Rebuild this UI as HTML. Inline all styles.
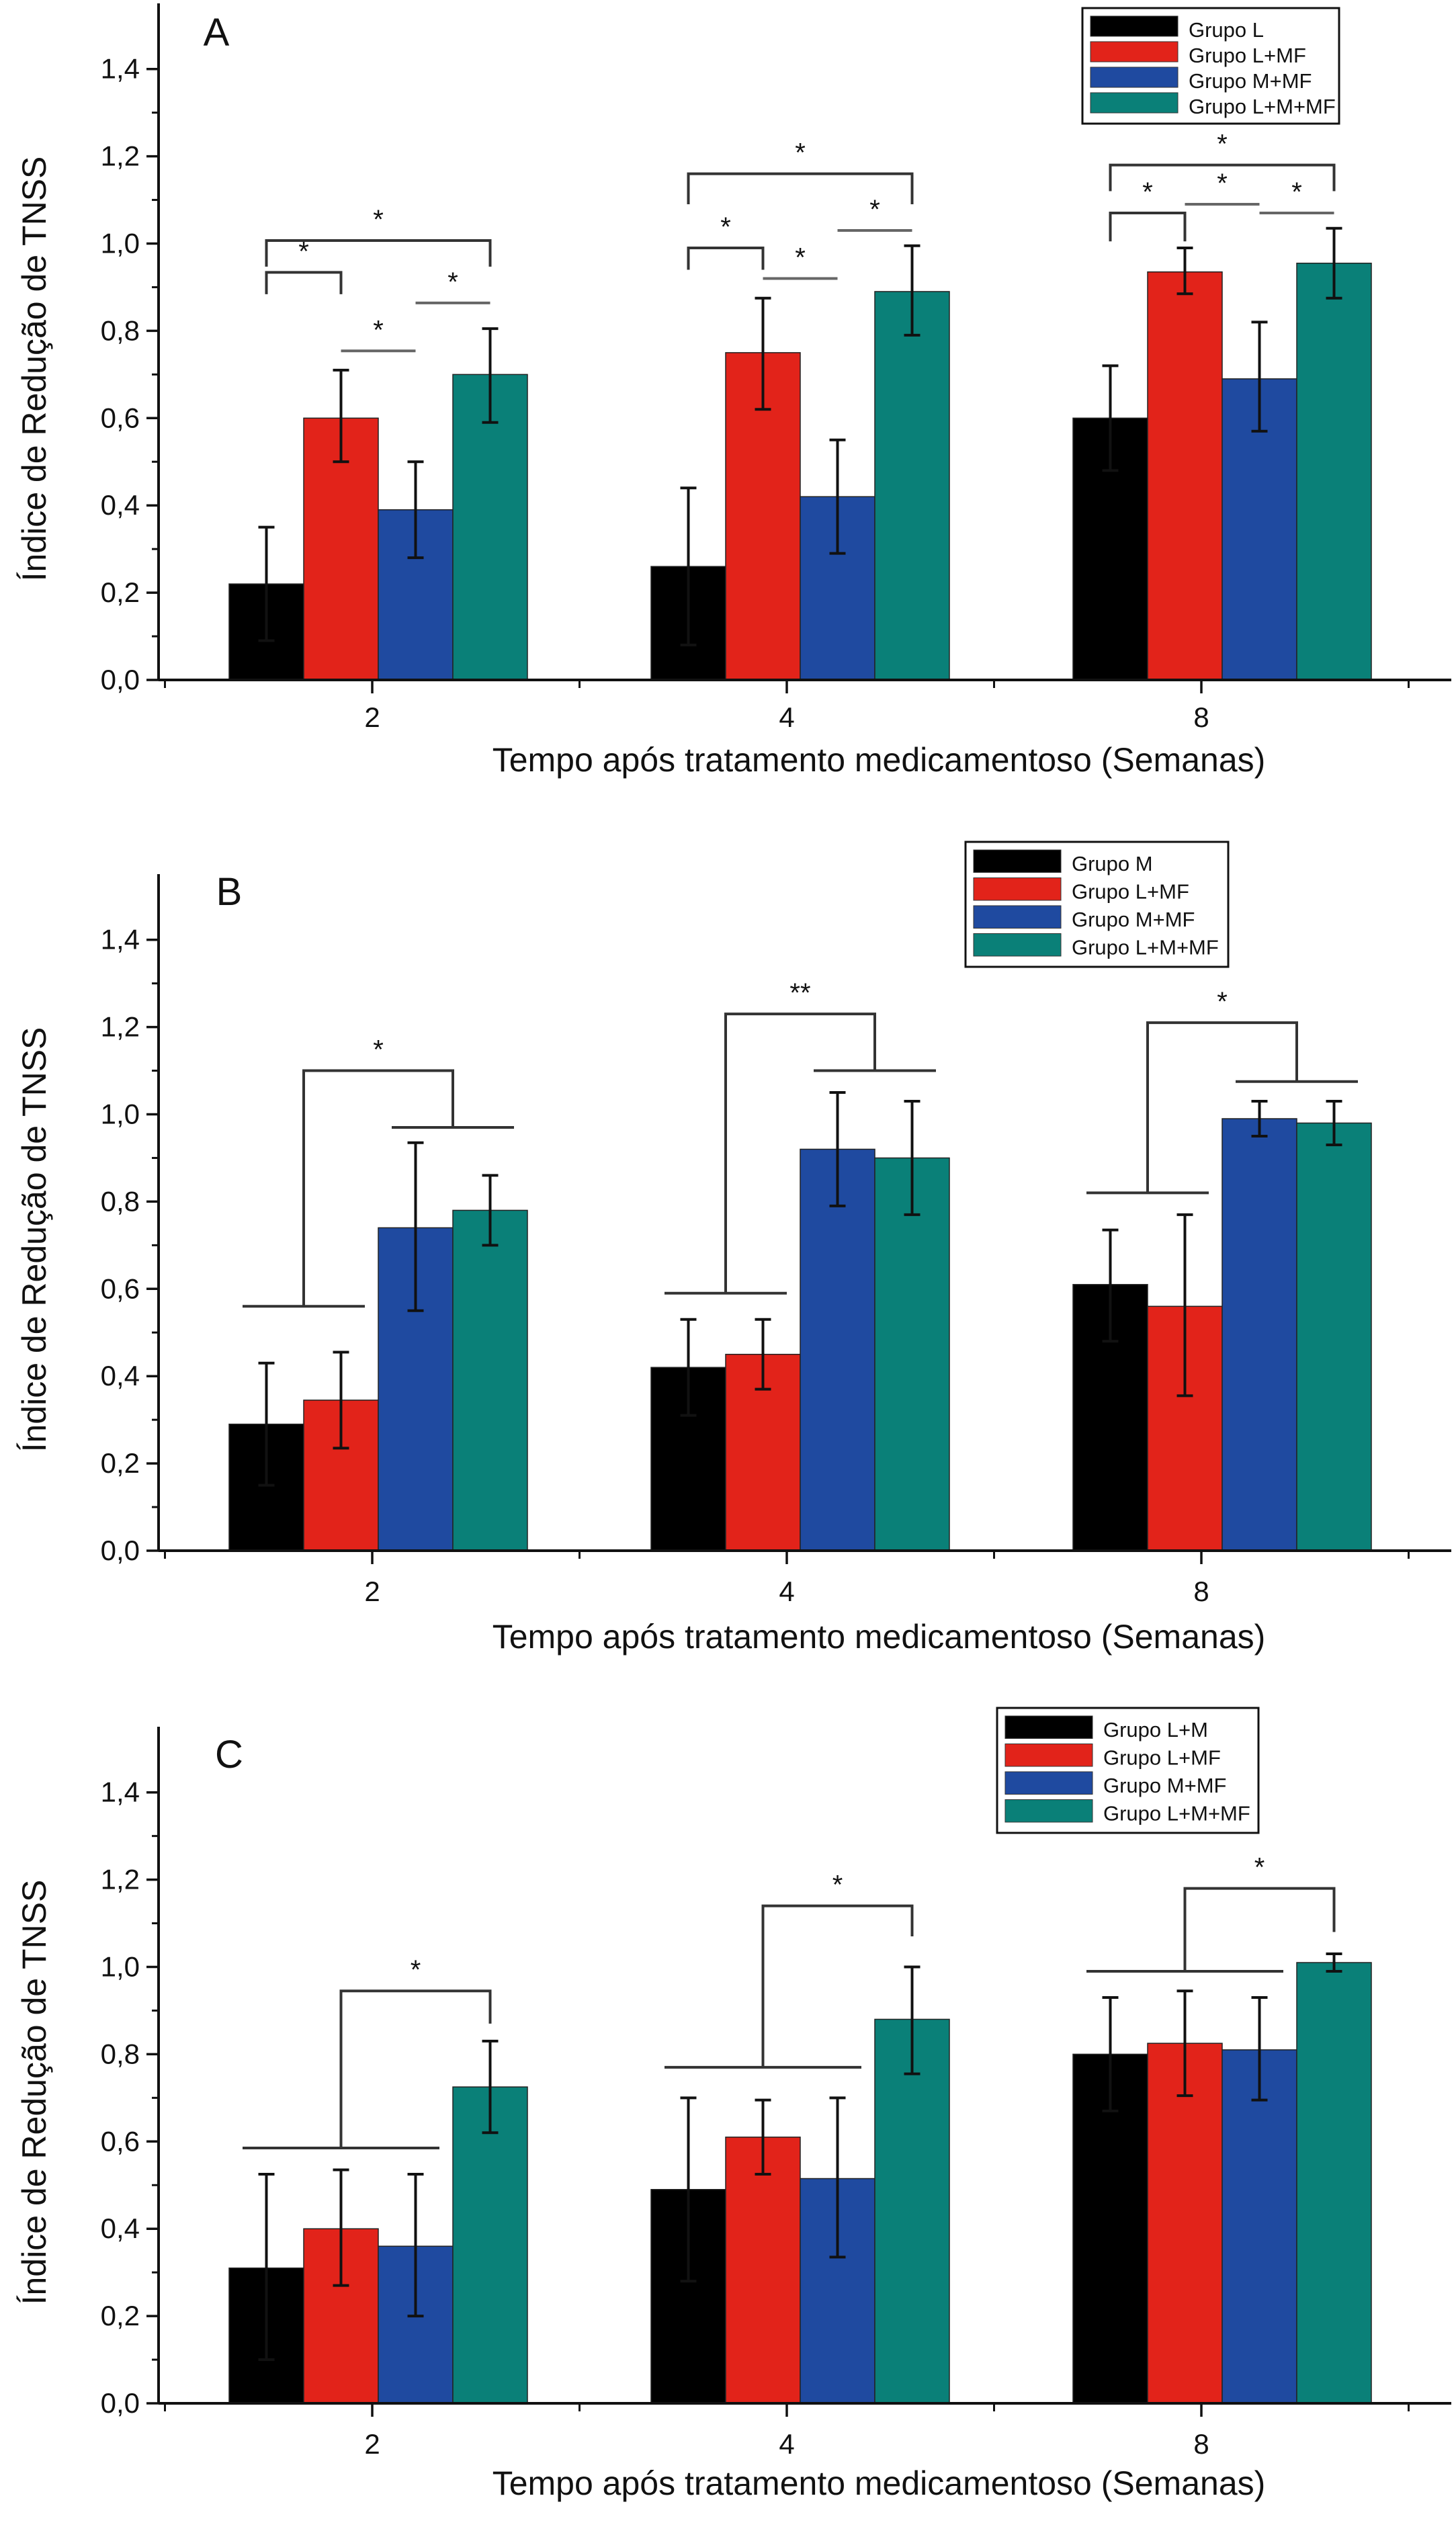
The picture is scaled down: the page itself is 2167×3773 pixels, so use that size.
<!DOCTYPE html>
<html><head><meta charset="utf-8"><style>
html,body{margin:0;padding:0;background:#fff}
svg{display:block}
text{font-family:"Liberation Sans Narrow","Liberation Sans",sans-serif}
</style></head><body>
<svg id="fig" width="2167" height="3773" viewBox="0 0 2167 3773" xmlns="http://www.w3.org/2000/svg"></svg>
<script>
const categories = ["2","4","8"];
const yTicks = [0,0.2,0.4,0.6,0.8,1.0,1.2,1.4];
const yTickLabels = ["0,0","0,2","0,4","0,6","0,8","1,0","1,2","1,4"];
const colors = ["#000000","#e2231a","#1f4aa0","#0a8078"];

// Panel A
const aLegend = ["Grupo L","Grupo L+MF","Grupo M+MF","Grupo L+M+MF"];
const aVals = [[0.22,0.26,0.60],[0.60,0.75,0.935],[0.39,0.42,0.69],[0.70,0.89,0.955]];
const aHi = [[0.35,0.44,0.72],[0.71,0.875,0.99],[0.50,0.55,0.82],[0.805,0.995,1.035]];
const aLo = [[0.09,0.08,0.48],[0.50,0.62,0.885],[0.28,0.29,0.57],[0.59,0.79,0.875]];
const aBrackets = [[0,0,3,1.007,0.06,"*"],[0,0,1,0.934,0.05,"*"],[0,1,2,0.754,0,"*"],[0,2,3,0.864,0,"*"],
 [1,0,3,1.16,0.07,"*"],[1,0,1,0.99,0.05,"*"],[1,1,2,0.92,0,"*"],[1,2,3,1.03,0,"*"],
 [2,0,3,1.18,0.06,"*"],[2,0,1,1.07,0.065,"*"],[2,1,2,1.09,0,"*"],[2,2,3,1.07,0,"*"]];

// Panel B
const bLegend = ["Grupo M","Grupo L+MF","Grupo M+MF","Grupo L+M+MF"];
const bVals = [[0.29,0.42,0.61],[0.345,0.45,0.56],[0.74,0.92,0.99],[0.78,0.90,0.98]];
const bHi = [[0.43,0.53,0.735],[0.455,0.53,0.77],[0.935,1.05,1.03],[0.86,1.03,1.03]];
const bLo = [[0.15,0.31,0.48],[0.235,0.37,0.355],[0.55,0.79,0.95],[0.70,0.77,0.93]];
const bComps = [[0,0,1,0.56,2,3,0.97,1.10,"*"],[1,0,1,0.59,2,3,1.10,1.23,"**"],[2,0,1,0.82,2,3,1.075,1.21,"*"]];

// Panel C
const cLegend = ["Grupo L+M","Grupo L+MF","Grupo M+MF","Grupo L+M+MF"];
const cVals = [[0.31,0.49,0.80],[0.40,0.61,0.825],[0.36,0.515,0.81],[0.725,0.88,1.01]];
const cHi = [[0.525,0.70,0.93],[0.535,0.695,0.945],[0.525,0.70,0.93],[0.83,1.0,1.03]];
const cLo = [[0.10,0.28,0.67],[0.27,0.525,0.705],[0.20,0.335,0.695],[0.62,0.755,0.99]];
const cComps = [[0,0,2,0.585,3,3,0.87,0.945,"*"],[1,0,2,0.77,3,3,1.07,1.14,"*"],[2,0,2,0.99,3,3,1.08,1.18,"*"]];

const NS="http://www.w3.org/2000/svg";
const svg=document.getElementById('fig');
function mk(tag,attrs,parent){const e=document.createElementNS(NS,tag);for(const k in attrs)e.setAttribute(k,attrs[k]);(parent||svg).appendChild(e);return e;}

function drawPanel(p){
  const g=mk('g',{});
  
  
  const x0=236, base=p.base, unit=649.5;
  const ys=v=>base-v*unit;
  const xs=i=>554+i*617;
  const gx=i=>563+i*628;
  const bw=111;
  const bx=(i,j)=>gx(i)+(j-2)*bw;
  for(let j=0;j<4;j++)for(let i=0;i<3;i++){
    const r=mk('rect',{x:bx(i,j),y:ys(p.vals[j][i]),width:bw,height:p.vals[j][i]*unit,fill:colors[j],stroke:'#222','stroke-width':1.5},g);
    
    
    const cx=bx(i,j)+bw/2;
    const eb=mk('path',{d:`M${cx},${ys(p.hi[j][i])}V${ys(p.lo[j][i])}M${cx-12},${ys(p.hi[j][i])}h24M${cx-12},${ys(p.lo[j][i])}h24`,stroke:'#111','stroke-width':4,fill:'none'},g);
    
    
  }
  const ax=mk('path',{d:`M${x0},${p.top}V${base}M${x0},${base}H2160`,stroke:'#111','stroke-width':4,fill:'none'},g);
  
  
  yTicks.forEach((t,k)=>{
    mk('line',{x1:x0-18,x2:x0,y1:ys(t),y2:ys(t),stroke:'#111','stroke-width':3.5},g);
    if(k<7)mk('line',{x1:x0-10,x2:x0,y1:ys(t+0.1),y2:ys(t+0.1),stroke:'#111','stroke-width':3},g);
    const tl=mk('text',{x:x0-28,y:ys(t)+14,'text-anchor':'end','font-size':42,fill:'#111'},g);
    tl.textContent=yTickLabels[k];
    
    
  });
  categories.forEach((c,i)=>{
    mk('line',{x1:xs(i),x2:xs(i),y1:base,y2:base+20,stroke:'#111','stroke-width':3.5},g);
    const tl=mk('text',{x:xs(i),y:base+p.lblOff,'text-anchor':'middle','font-size':42,fill:'#111'},g);
    tl.textContent=c;
    
    
  });
  for(let i=0;i<4;i++){const mx=554+(i-0.5)*617;if(mx>x0)mk('line',{x1:mx,x2:mx,y1:base,y2:base+12,stroke:'#111','stroke-width':3},g);}
  const xt=mk('text',{x:1308,y:base+p.titleOff,'text-anchor':'middle','font-size':50,fill:'#111'},g);
  xt.textContent='Tempo após tratamento medicamentoso (Semanas)';
  
  
  const yt=mk('text',{x:0,y:0,'text-anchor':'middle','font-size':50,fill:'#111',transform:`translate(68,${base-463}) rotate(-90)`,style:'font-family:"Liberation Sans",sans-serif'},g);
  yt.textContent='Índice de Redução de TNSS';
  
  
  const pl=mk('text',{x:p.lx,y:p.ly,'text-anchor':'middle','font-size':58,fill:'#111'},g);
  pl.textContent=p.id;
  
  
  const L=p.leg;
  const lb=mk('rect',{x:L.x,y:L.y,width:L.w,height:L.h,fill:'#fff',stroke:'#111','stroke-width':3},g);
  
  
  p.legend.forEach((s,j)=>{
    const ry=L.y+12+j*(L.h-20)/4;
    mk('rect',{x:L.x+12,y:ry,width:130,height:(L.h-20)/4-8,fill:colors[j],stroke:'#333','stroke-width':1},g);
    const t=mk('text',{x:L.x+158,y:ry+31,'font-size':31,fill:'#111'},g);
    t.textContent=s;
    
    
  });
  (p.brackets||[]).forEach(b=>{
    const [i,a,c,lv,drop,lab]=b;
    const xa=bx(i,a)+bw/2, xc=bx(i,c)+bw/2;
    const d= drop>0?`M${xa},${ys(lv-drop)}V${ys(lv)}H${xc}V${ys(lv-drop)}`:`M${xa},${ys(lv)}H${xc}`;
    const pth=mk('path',{d,stroke:drop>0?'#333':'#666','stroke-width':4,fill:'none'},g);
    
    
    const st=mk('text',{x:(xa+xc)/2,y:ys(lv)-18,'text-anchor':'middle','font-size':40,fill:'#111'},g);
    st.textContent=lab;
    
    
  });
  (p.comps||[]).forEach(b=>{
    const [i,a1,a2,l1,c1,c2,l2,top,lab]=b;
    const la=bx(i,a1)+20, lb2=bx(i,a2)+bw-20, ra=bx(i,c1)+20, rb=bx(i,c2)+bw-20;
    const lm=(la+lb2)/2, rm=(ra+rb)/2;
    let d=`M${la},${ys(l1)}H${lb2}M${lm},${ys(l1)}V${ys(top)}H${rm}V${ys(l2)}`;
    if(c1!==c2)d+=`M${ra},${ys(l2)}H${rb}`;
    const pth=mk('path',{d,stroke:'#333','stroke-width':4,fill:'none'},g);
    
    
    const st=mk('text',{x:(lm+rm)/2,y:ys(top)-18,'text-anchor':'middle','font-size':40,fill:'#111'},g);
    st.textContent=lab;
    
    
  });
}
drawPanel({id:'A',base:1012,top:5,lblOff:70,titleOff:136,lx:322,ly:68,vals:aVals,hi:aHi,lo:aLo,legend:aLegend,brackets:aBrackets,leg:{x:1611,y:12,w:382,h:172}});
drawPanel({id:'B',base:2308,top:1301,lblOff:75,titleOff:145,lx:341,ly:1347,vals:bVals,hi:bHi,lo:bLo,legend:bLegend,comps:bComps,leg:{x:1437,y:1253,w:391,h:186}});
drawPanel({id:'C',base:3577,top:2570,lblOff:75,titleOff:136,lx:341,ly:2631,vals:cVals,hi:cHi,lo:cLo,legend:cLegend,comps:cComps,leg:{x:1484,y:2542,w:389,h:186}});
</script>
</body></html>
